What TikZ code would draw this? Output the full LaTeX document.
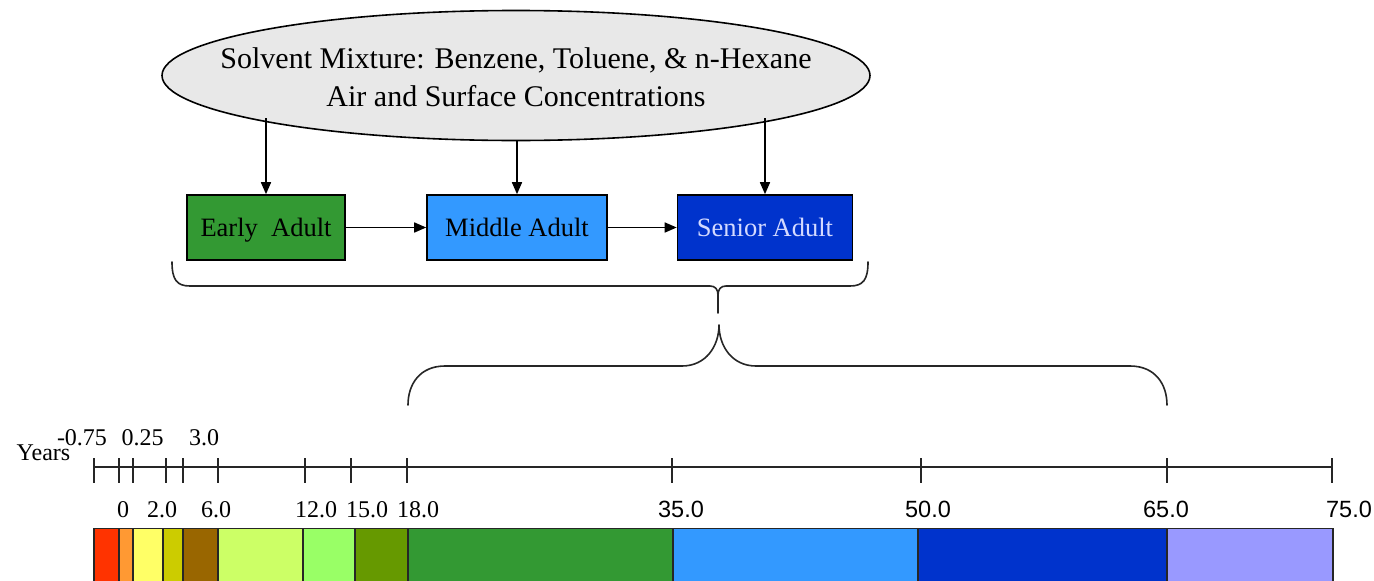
\documentclass[tikz,border=0pt]{standalone}
\usepackage{fontspec}
\setmainfont{Liberation Serif}
\newfontfamily\numsans{Liberation Sans}
\usetikzlibrary{shapes.geometric,arrows.meta}

% stage and age-band colours
\definecolor{ellfill}{HTML}{E8E8E8}
\definecolor{segRed}{HTML}{FF3300}
\definecolor{segOrange}{HTML}{FF9933}
\definecolor{segYellow}{HTML}{FFFF66}
\definecolor{segOlive}{HTML}{CCCC00}
\definecolor{segBrown}{HTML}{996600}
\definecolor{segLime}{HTML}{CCFF66}
\definecolor{segMint}{HTML}{99FF66}
\definecolor{segMoss}{HTML}{669900}
\definecolor{segGreen}{HTML}{339933}
\definecolor{segSky}{HTML}{3399FF}
\definecolor{segBlue}{HTML}{0033CC}
\definecolor{segLavender}{HTML}{9999FF}
\definecolor{paleText}{HTML}{D4DAFF}

\begin{document}
\begin{tikzpicture}[x=1pt,y=-1pt,
  stagebox/.style={draw=black, line width=1.6pt, minimum height=65pt, inner sep=0pt,
                   text height=18.5pt, text depth=0pt,
                   font=\fontsize{26.5}{30}\selectfont},
  arr/.style={line width=1.6pt, -{Triangle[length=12pt,width=10pt]}},
  bracepath/.style={line width=1.6pt, draw=black!85, line cap=round, line join=round},
  axisline/.style={line width=1.6pt, draw=black!85},
  yearlbl/.style={anchor=base, inner sep=0pt, font=\fontsize{24}{28}\selectfont},
  yearlblsans/.style={anchor=base, inner sep=0pt, font=\numsans\fontsize{23.5}{28}\selectfont},
  band/.style={draw=black!85, line width=1.4pt}]
\useasboundingbox (0,0) rectangle (1374,581);

% source of exposure
\node[ellipse, draw=black, line width=1.6pt, fill=ellfill,
      minimum width=708pt, minimum height=130pt, inner sep=0pt] (src) at (516,75.5) {};
\node[anchor=base, inner sep=0pt, font=\fontsize{30}{38}\selectfont] (srcA) at (516,68)
  {Solvent Mixture: Benzene, Toluene, \& n-Hexane};
\node[anchor=base, inner sep=0pt, font=\fontsize{30}{38}\selectfont] (srcB) at (516,106)
  {Air and Surface Concentrations};

% life stages
\node[stagebox, fill=segGreen, minimum width=158pt] (early) at (266,227.5) {Early\ \ Adult};
\node[stagebox, fill=segSky, minimum width=180pt] (middle) at (517,227.5) {Middle Adult};
\node[stagebox, fill=segBlue, minimum width=175pt, text=paleText] (senior) at (765,227.5) {Senior Adult};

\draw[arr] (early.north |- src.189) -- (early.north);
\draw[arr] (middle.north |- src.south) -- (middle.north);
\draw[arr] (senior.north |- src.351) -- (senior.north);
\draw[arr] (early.east) -- (middle.west);
\draw[arr] (middle.east) -- (senior.west);

% brace under the stages
\draw[bracepath] (172,262) .. controls (172,280) and (177,286) .. (190,286) -- (710,286)
  .. controls (715,286) and (718,289) .. (718,295)
  .. controls (718,289) and (721,286) .. (726,286) -- (850,286)
  .. controls (863,286) and (868,280) .. (868,262);
\draw[bracepath] (718,295) -- (718,313);

% brace over the adult years
\draw[bracepath] (408,405) .. controls (408,384) and (420,366) .. (445,366) -- (682,366)
  .. controls (706,366) and (719,346) .. (719,325)
  .. controls (719,346) and (732,366) .. (756,366) -- (1130,366)
  .. controls (1155,366) and (1167,384) .. (1167,405);

% age axis
\foreach \x [count=\i] in {94,119,133,166,183,218,305,351,407,672,921,1167,1332}
  \coordinate (tick-\i) at (\x,467);
\draw[axisline] (tick-1) -- (tick-13);
\foreach \i in {1,...,13}
  \draw[axisline] (tick-\i) ++(0,-9) -- ++(0,25);

\node[yearlbl] (years) at (43.5,460) {Years};
\node[yearlbl] (ym075) at (82,445) {-0.75};
\node[yearlbl] (y025) at (142.5,445) {0.25};
\node[yearlbl] (y3) at (204,445) {3.0};
\node[yearlbl] (y0) at (123,517) {0};
\node[yearlbl] (y2) at (162,517) {2.0};
\node[yearlbl] (y6) at (216,517) {6.0};
\node[yearlbl] (y12) at (316,517) {12.0};
\node[yearlbl] (y15) at (367,517) {15.0};
\node[yearlbl] (y18) at (418,517) {18.0};
\node[yearlblsans] (y35) at (681,517) {35.0};
\node[yearlblsans] (y50) at (928,517) {50.0};
\node[yearlblsans] (y65) at (1166,517) {65.0};
\node[yearlblsans] (y75) at (1349,517) {75.0};

% age bands
\foreach \a/\b/\c in {94/119/segRed,119/133/segOrange,133/163/segYellow,163/183/segOlive,
                      183/218/segBrown,218/303/segLime,303/355/segMint,355/408/segMoss,
                      408/673/segGreen,673/918/segSky,918/1167/segBlue,1167/1333/segLavender}
  \draw[band, fill=\c] (\a,528.5) rectangle (\b,590);
\end{tikzpicture}
\end{document}
